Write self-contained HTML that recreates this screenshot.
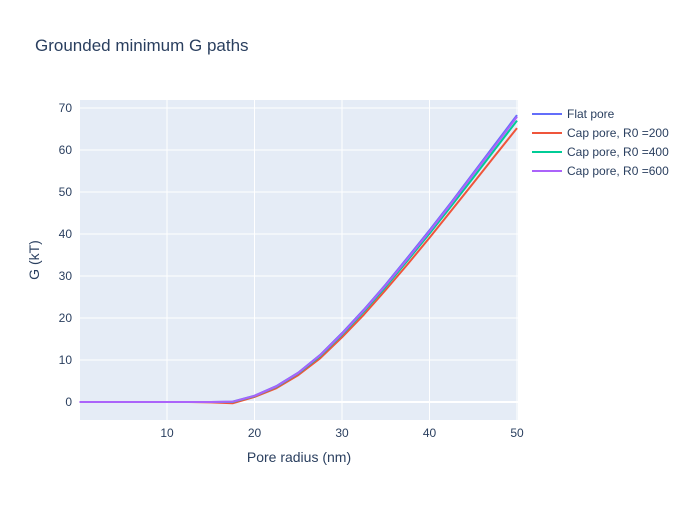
<!DOCTYPE html>
<html><head><meta charset="utf-8"><style>
body{margin:0;background:#fff;font-family:"Liberation Sans",sans-serif;}
svg text{font-family:"Liberation Sans",sans-serif;fill:#2a3f5f;}
</style></head><body>
<svg id="c" width="700" height="500">
<rect width="700" height="500" fill="#fff"/>
<text x="35" y="51" font-size="17">Grounded minimum G paths</text>
<rect x="80" y="100" width="438" height="320" fill="#e5ecf6"/>
<g id="grid"></g><g id="lines"></g><g id="ticks"></g>
<text x="299" y="462" font-size="14" text-anchor="middle">Pore radius (nm)</text>
<text transform="translate(39,260) rotate(-90)" font-size="14" text-anchor="middle">G (kT)</text>
<g id="legend"></g>
</svg>
<script>
const xs=[0,2.5,5,7.5,10,12.5,15,17.5,20,22.5,25,27.5,30,32.5,35,37.5,40,42.5,45,47.5,50];
const flat=[0,0,0,0,0,0,0,0.1,1.5,3.8,7.0,11.2,16.4,22.0,28.0,34.4,40.9,47.6,54.5,61.4,68.3];
const cap200=[0,0,0,0,0,0,-0.1,-0.3,1.2,3.3,6.4,10.4,15.4,20.8,26.7,32.8,39.1,45.6,52.1,58.7,65.2];
const cap400=[0,0,0,0,0,0,0,0,1.4,3.6,6.8,10.9,16.0,21.5,27.4,33.7,40.1,46.7,53.4,60.2,67.0];
const cap600=[0,0,0,0,0,0,0,0.05,1.45,3.7,6.9,11.1,16.2,21.8,27.8,34.1,40.6,47.3,54.2,61.0,67.9];
const xTicks=[10,20,30,40,50];
const yTicks=[0,10,20,30,40,50,60,70];
const names=["Flat pore","Cap pore, R0 =200","Cap pore, R0 =400","Cap pore, R0 =600"];
const colors=["#636efa","#EF553B","#00cc96","#ab63fa"];
const X=v=>79.5+v*8.75, Y=v=>402-v*4.2;
const ns="http://www.w3.org/2000/svg";
function mk(t,a,p){const e=document.createElementNS(ns,t);for(const k in a)e.setAttribute(k,a[k]);p.appendChild(e);return e;}
const g=document.getElementById('grid'),tk=document.getElementById('ticks');
xTicks.forEach(v=>{const l=mk('line',{x1:X(v),x2:X(v),y1:100,y2:420,stroke:'#fff','stroke-width':1},g);

const t=mk('text',{x:X(v),y:437,'font-size':12,'text-anchor':'middle'},tk);t.textContent=v;
});
yTicks.forEach(v=>{const l=mk('line',{x1:80,x2:518,y1:Y(v),y2:Y(v),stroke:'#fff','stroke-width':v==0?2:1},g);

const t=mk('text',{x:72,y:Y(v)+4,'font-size':12,'text-anchor':'end'},tk);t.textContent=v;
});
const series=[flat,cap200,cap400,cap600];
const L=document.getElementById('lines');
series.forEach((s,i)=>{const p=mk('polyline',{points:xs.map((x,j)=>X(x)+','+Y(s[j])).join(' '),fill:'none',stroke:colors[i],'stroke-width':2,'stroke-linejoin':'round'},L);
});
const lg=document.getElementById('legend');
names.forEach((n,i)=>{const y=114+i*19;const gg=mk('g',{},lg);

mk('line',{x1:532,x2:562,y1:y,y2:y,stroke:colors[i],'stroke-width':2},gg);
const t=mk('text',{x:567,y:y+4,'font-size':12},gg);t.textContent=n;});
</script>
</body></html>
